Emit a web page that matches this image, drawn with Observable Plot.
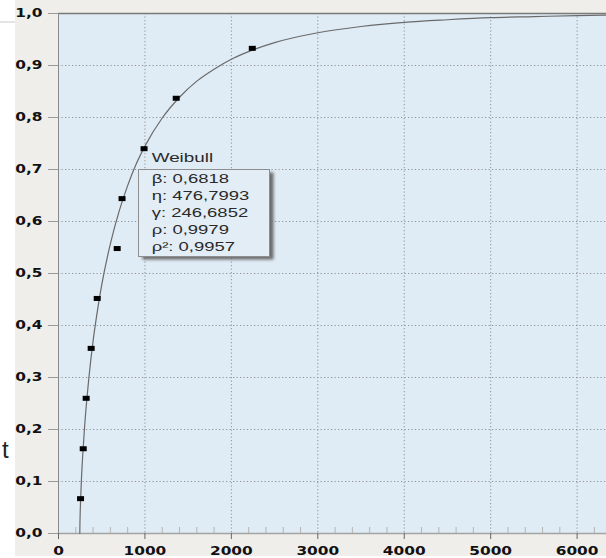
<!DOCTYPE html>
<html>
<head>
<meta charset="utf-8">
<script src="https://cdn.jsdelivr.net/npm/d3@7"></script>
<script src="https://cdn.jsdelivr.net/npm/@observablehq/plot@0.6"></script>
<style>
  html, body { margin: 0; padding: 0; background: #ffffff; }
  #chart svg { display: block; }
</style>
</head>
<body>
<div id="chart"></div>
<script>
// ---- data ----
const xTicks = [0, 1000, 2000, 3000, 4000, 5000, 6000];
const yTicks = [0, 0.1, 0.2, 0.3, 0.4, 0.5, 0.6, 0.7, 0.8, 0.9, 1.0];
const minorX = [200, 400, 600, 800, 1200, 1400, 1600, 1800, 2200, 2400, 2600, 2800,
                3200, 3400, 3600, 3800, 4200, 4400, 4600, 4800, 5200, 5400, 5600, 5800, 6200];

// observed points (time, cumulative probability)
const obsTime = [255, 286, 320, 378, 448, 679, 735, 990, 1362, 2242];
const obsProb = [0.067, 0.163, 0.260, 0.356, 0.452, 0.548, 0.644, 0.740, 0.837, 0.933];

// fitted curve
const fitTime = [246.7, 247, 250, 255, 265, 280, 300, 325, 350, 400, 450, 500, 600, 700, 800,
                 900, 1000, 1200, 1400, 1600, 1800, 2000, 2250, 2500, 3000, 3500, 4000, 4500,
                 5000, 5500, 6000, 6340];
const fitProb = [0, 0.007, 0.033, 0.061, 0.103, 0.150, 0.201, 0.253, 0.297, 0.370, 0.428, 0.478,
                 0.557, 0.619, 0.669, 0.711, 0.745, 0.799, 0.839, 0.870, 0.893, 0.912, 0.930,
                 0.944, 0.963, 0.975, 0.983, 0.988, 0.992, 0.994, 0.996, 0.997];

const legendTitle = "Weibull";
const legendLines = ["β: 0,6818", "η: 476,7993", "γ: 246,6852", "ρ: 0,9979", "ρ²: 0,9957"];
const sideLabel = "t";

// ---- build ----
const obs = obsTime.map((t, i) => ({t, p: obsProb[i]}));
const fit = fitTime.map((t, i) => ({t, p: fitProb[i]}));

const rectSymbol = {
  draw(ctx) { ctx.moveTo(-3.5, -2.5); ctx.lineTo(3.5, -2.5); ctx.lineTo(3.5, 2.5); ctx.lineTo(-3.5, 2.5); ctx.closePath(); }
};

const grid = {stroke: "#909090", strokeOpacity: 1, strokeDasharray: "1.2,2.3", strokeWidth: 1};

const chart = Plot.plot({
  width: 606,
  height: 558,
  marginLeft: 58,
  marginRight: 0,
  marginTop: 13,
  marginBottom: 25,
  x: {domain: [0, 6340]},
  y: {domain: [0, 1]},
  style: {
    background: "transparent",
    fontFamily: "'DejaVu Sans', sans-serif",
    fontSize: "12px",
    fontWeight: "bold",
    color: "#111",
    overflow: "visible"
  },
  marks: [
    Plot.frame({fill: "#dfebf5", stroke: null}),
    Plot.ruleX(minorX, {stroke: "#b5b5b5", insetTop: 514}),
    Plot.gridX({ticks: xTicks.slice(1), ...grid}),
    Plot.gridY({ticks: yTicks.slice(1, -1), ...grid}),
    Plot.ruleY([1], {stroke: "#7a7a7a", strokeWidth: 1.5}),
    Plot.ruleY([0], {stroke: "#a3a3a3", strokeWidth: 1.5}),
    Plot.ruleX([0], {stroke: "#8a8a8a"}),
    Plot.line(fit, {x: "t", y: "p", stroke: "#6a6a6a", strokeWidth: 1.2, curve: "monotone-x"}),
    Plot.dot(obs, {x: "t", y: "p", symbol: rectSymbol, r: 3, fill: "#000", stroke: null}),
    Plot.axisX({ticks: xTicks, tickSize: 6, tickPadding: 7, tickFormat: d => String(d), stroke: "#666", label: null}),
    Plot.axisY({ticks: yTicks, tickSize: 10, tickPadding: 6, tickFormat: d => d.toFixed(1).replace(".", ","), stroke: "#9a9a9a", label: null})
  ]
});

document.getElementById("chart").appendChild(chart);
const svg = d3.select(chart);

// horizontally widen text like the reference
function stretch(sel, k) {
  sel.each(function () {
    const w = this.getComputedTextLength();
    this.setAttribute("textLength", (w * k).toFixed(2));
    this.setAttribute("lengthAdjust", "spacingAndGlyphs");
  });
}
stretch(svg.selectAll("text"), 1.28);

// background panel behind everything
const bg = svg.insert("g", ":first-child");
bg.append("rect").attr("x", 0).attr("y", 0).attr("width", 606).attr("height", 558).attr("fill", "#ffffff");
bg.append("rect").attr("x", 15).attr("y", 0).attr("width", 591).attr("height", 556).attr("fill", "#efeeea");
bg.append("line").attr("x1", 0).attr("x2", 15).attr("y1", 22).attr("y2", 22).attr("stroke", "#c8c8c8");

// side label
svg.append("text").attr("x", 2).attr("y", 458).attr("text-anchor", "start")
  .attr("font-family", "'Liberation Sans', Arial, sans-serif").attr("font-size", 24).attr("font-weight", "normal")
  .attr("fill", "#222").text(sideLabel);

// legend box
const defs = svg.append("defs");
defs.append("filter").attr("id", "legshadow").attr("x", "-10%").attr("y", "-10%").attr("width", "130%").attr("height", "130%")
  .append("feGaussianBlur").attr("stdDeviation", 1.6);
const lg = svg.append("g").attr("text-anchor", "start");
const bx = 138.5, by = 169.5, bw = 131, bh = 87;
lg.append("rect").attr("x", bx + 4).attr("y", by + 3).attr("width", bw).attr("height", bh)
  .attr("fill", "#6a6a6a").attr("filter", "url(#legshadow)");
lg.append("rect").attr("x", bx).attr("y", by).attr("width", bw).attr("height", bh)
  .attr("fill", "#e3edf6").attr("stroke", "#8e8e8e");
const legFont = "'Liberation Sans', Arial, sans-serif";
const tTitle = lg.append("text").attr("x", 151.7).attr("y", 162).attr("text-anchor", "start")
  .attr("font-family", legFont).attr("font-size", 13).attr("font-weight", "normal").attr("fill", "#2a2a2a")
  .text(legendTitle);
const tLines = lg.selectAll("text.l").data(legendLines).join("text").attr("class", "l")
  .attr("x", 151.7).attr("y", (d, i) => 182.5 + i * 17.2).attr("text-anchor", "start")
  .attr("font-family", legFont).attr("font-size", 13).attr("font-weight", "normal").attr("fill", "#2a2a2a")
  .text(d => d);
stretch(tTitle, 1.45);
stretch(tLines, 1.42);
</script>
</body>
</html>
